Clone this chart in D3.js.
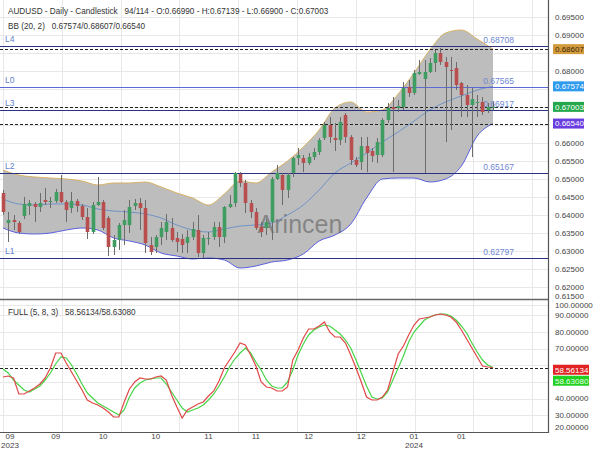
<!DOCTYPE html>
<html>
<head>
<meta charset="utf-8">
<script src="https://cdn.jsdelivr.net/npm/d3@7"></script>
<style>
  body { margin: 0; background: #fff; }
  svg { display: block; font-family: "Liberation Sans", Arial, sans-serif; }
</style>
</head>
<body>
<svg></svg>
<script>
// daily AUDUSD candles, bar index 0..93
var opens = [0.64611,0.63778,0.63861,0.63778,0.63972,0.6425,0.64306,0.64222,0.64417,0.64361,
  0.64389,0.64639,0.64361,0.64194,0.64389,0.6425,0.63944,0.63528,0.64278,0.64361,
  0.63917,0.63111,0.63306,0.63722,0.63722,0.6425,0.64333,0.64194,0.63167,0.63111,
  0.63389,0.63528,0.63639,0.63361,0.63333,0.63222,0.63389,0.63583,0.62944,0.63333,
  0.63389,0.63667,0.63389,0.64222,0.64333,0.65139,0.64889,0.64333,0.64083,0.63667,
  0.63639,0.63806,0.65,0.65111,0.64694,0.65167,0.65583,0.65583,0.65444,0.65611,
  0.6575,0.66139,0.665,0.66139,0.66083,0.66778,0.66167,0.65528,0.65472,0.65917,
  0.65778,0.65667,0.65667,0.66639,0.67,0.66972,0.67,0.67556,0.67389,0.67917,
  0.67778,0.67972,0.68222,0.685,0.6825,0.68028,0.68083,0.67667,0.67333,0.67056,
  0.67111,0.67139,0.66917,0.6699];
var highs = [0.64694,0.64083,0.64,0.63833,0.645,0.64417,0.64361,0.64611,0.6475,0.645,
  0.64722,0.65111,0.64417,0.64639,0.64444,0.64306,0.64194,0.64361,0.65056,0.64417,
  0.63972,0.63444,0.63778,0.64139,0.64417,0.64444,0.64472,0.64417,0.63389,0.63444,
  0.63806,0.64028,0.63917,0.63528,0.63472,0.63583,0.63806,0.64,0.63444,0.63528,
  0.63806,0.63806,0.6425,0.64556,0.65194,0.65194,0.64972,0.64417,0.64194,0.63806,
  0.63889,0.65056,0.65389,0.65167,0.65167,0.65611,0.65861,0.65667,0.65722,0.65861,
  0.66139,0.66583,0.66722,0.66556,0.66722,0.66833,0.66222,0.65611,0.66167,0.66167,
  0.65861,0.66139,0.66694,0.67111,0.67278,0.67194,0.67694,0.6775,0.68028,0.68306,
  0.68306,0.68361,0.68583,0.68639,0.68389,0.68389,0.6825,0.67694,0.67611,0.67528,
  0.67333,0.67278,0.67111,0.67139];
var lows = [0.64,0.6325,0.63583,0.63472,0.63889,0.64,0.63806,0.64083,0.64278,0.64194,
  0.64333,0.64333,0.63806,0.64056,0.64083,0.63861,0.63333,0.63472,0.6425,0.63583,
  0.62861,0.62889,0.63028,0.63167,0.635,0.64139,0.63583,0.62944,0.62889,0.62944,
  0.63167,0.63306,0.6325,0.62972,0.62944,0.62944,0.63306,0.62833,0.62806,0.63167,
  0.63306,0.63111,0.63222,0.64194,0.64222,0.64778,0.64056,0.63917,0.63583,0.63389,
  0.63444,0.63306,0.64972,0.64278,0.64472,0.65056,0.65389,0.65194,0.65389,0.65528,
  0.65667,0.66083,0.66,0.65778,0.65944,0.66,0.65389,0.65333,0.6525,0.65194,
  0.65472,0.65444,0.65611,0.66556,0.65194,0.66861,0.66917,0.67278,0.67333,0.67889,
  0.65167,0.67944,0.67972,0.68167,0.66028,0.66361,0.67472,0.66722,0.66722,0.65611,
  0.66722,0.66778,0.66833,0.669];
var closes = [0.64083,0.63861,0.63806,0.63528,0.64306,0.64333,0.64222,0.64333,0.64361,0.64389,
  0.64639,0.64361,0.64139,0.64389,0.6425,0.63944,0.63528,0.64278,0.64361,0.63639,
  0.63111,0.63306,0.63722,0.63861,0.64222,0.64333,0.64194,0.63222,0.62972,0.63389,
  0.63639,0.63806,0.63306,0.6325,0.63167,0.63389,0.63611,0.62944,0.63361,0.63361,
  0.63667,0.63389,0.64222,0.64306,0.65167,0.64889,0.64333,0.64083,0.63639,0.63528,
  0.63806,0.65,0.65167,0.64694,0.65111,0.65583,0.65667,0.65444,0.65611,0.6575,
  0.66083,0.665,0.66167,0.66083,0.66583,0.66167,0.65528,0.65389,0.65917,0.65722,
  0.65639,0.66028,0.66639,0.66972,0.66944,0.67028,0.67528,0.67389,0.67944,0.67972,
  0.67972,0.68222,0.685,0.6825,0.68111,0.68,0.67611,0.67333,0.67056,0.67222,
  0.67139,0.66861,0.67,0.67003];

// Bollinger band (20, 2) read every third bar
var bandIdx = [0,3,6,9,12,15,18,21,24,27,30,33,36,39,42,45,48,51,54,57,60,63,66,69,72,75,78,81,84,87,90,93];
var bbUpper = [0.6525,0.65111,0.65056,0.65028,0.65,0.64944,0.64833,0.64889,0.64889,0.64917,
  0.64778,0.64611,0.64472,0.64278,0.64583,0.64944,0.64889,0.65194,0.655,0.65889,
  0.66361,0.66972,0.67139,0.66861,0.66917,0.67361,0.67944,0.68583,0.69056,0.69139,
  0.68889,0.68607];
var bbMiddle = [0.64444,0.64306,0.64278,0.64306,0.64306,0.64278,0.64167,0.64111,0.64083,0.64028,
  0.63917,0.63722,0.63583,0.63528,0.63611,0.63694,0.63722,0.63778,0.64,0.64278,
  0.64694,0.65167,0.65444,0.65722,0.66028,0.66306,0.66611,0.66917,0.67139,0.67306,
  0.67472,0.67574];
var bbLower = [0.63639,0.635,0.63472,0.635,0.63583,0.63639,0.63583,0.63361,0.63278,0.63167,
  0.62944,0.62861,0.62778,0.62806,0.6275,0.62528,0.62583,0.62694,0.6275,0.62917,
  0.63278,0.63444,0.6375,0.64472,0.65,0.65028,0.65028,0.64917,0.65,0.65361,
  0.66194,0.6654];

// stochastic FULL (5, 8, 3)
var stochK = [53.0,53.6,52.4,42.8,42.8,44.6,46.4,48.8,52.4,58.4,
  67.4,67.4,61.4,56.0,50.6,45.2,39.2,37.4,36.2,34.4,
  32.0,29.0,29.0,38.0,45.8,50.0,52.4,51.8,51.8,53.0,
  53.6,51.2,42.2,35.0,28.4,33.2,35.0,36.8,38.0,41.6,
  44.6,50.6,58.4,63.2,68.0,73.4,72.2,66.2,59.6,50.0,
  47.0,46.4,44.6,44.6,47.0,63.2,69.2,76.4,81.8,81.8,
  83.6,86.0,80.0,77.0,77.0,73.4,66.2,58.4,50.0,41.0,
  39.2,39.2,41.0,45.2,56.0,66.8,71.6,78.2,84.2,87.8,
  88.4,89.0,90.2,90.8,90.2,89.0,86.0,81.2,75.8,70.4,
  65.0,59.6,59.0,58.56134];
var stochD = [57.8,55.4,51.2,48.2,45.2,44.0,45.8,47.6,51.2,55.4,
  60.8,65.0,64.4,60.2,54.8,48.8,43.4,40.4,37.4,35.6,
  33.8,32.0,30.2,33.2,41.0,46.4,49.4,51.2,51.8,52.4,
  52.4,48.8,44.0,39.2,34.4,32.0,33.2,34.4,36.2,39.2,
  42.8,47.6,53.0,59.0,63.8,67.4,70.4,67.4,62.0,57.2,
  51.2,47.6,46.4,46.4,50.0,57.2,66.2,72.8,78.2,81.2,
  83.0,84.2,83.6,81.2,78.8,75.2,70.4,63.2,55.4,47.6,
  41.0,39.8,40.4,44.0,51.2,58.4,65.6,74.0,80.0,83.6,
  87.2,89.0,90.2,90.8,90.8,89.6,87.2,83.6,79.4,73.4,
  68.0,63.2,60.2,58.6308];

// horizontal levels drawn by the user
var levelNames = ["L4", "L0", "L3", "L2", "L1"];
var levelValues = [0.68708, 0.67565, 0.66917, 0.65167, 0.62797];
var levelColors = ["#2b3284", "#5d69d2", "#2b3284", "#2b3284", "#2b3284"];

// x axis labels
var xTickIdx = [0, 10, 19, 29, 39, 48, 58, 68, 78, 87];
var xTickMonth = ["09", "09", "10", "10", "11", "11", "12", "12", "01", "01"];
var xTickYear = ["2023", "", "", "", "", "", "", "", "2024", ""];

var priceTicks = d3.range(0.615, 0.6951, 0.005);
var stochTicks = [20, 30, 40, 50, 60, 70, 80, 90, 100];

var width = 600, height = 450;
var plotRight = 548;
var mainTop = 0, mainBottom = 298;
var subTop = 300, subBottom = 432;

var svg = d3.select("svg").attr("width", width).attr("height", height);

var x = d3.scaleLinear().domain([0, 93]).range([3, 493]);
var y = d3.scaleLinear().domain([0.62, 0.68]).range([287, 71]);
var ys = d3.scaleLinear().domain([20, 80]).range([432, 332]);
var fmt = d3.format(".5f");

var defs = svg.append("defs");
defs.append("clipPath").attr("id", "clipMain")
  .append("rect").attr("x", 0).attr("y", mainTop).attr("width", plotRight).attr("height", mainBottom - mainTop);
defs.append("clipPath").attr("id", "clipSub")
  .append("rect").attr("x", 0).attr("y", subTop).attr("width", plotRight).attr("height", subBottom - subTop);

// grid
var gridX = d3.range(3, plotRight, 58.8);
var grid = svg.append("g").attr("stroke", "#e8e8e8").attr("stroke-width", 1);
grid.selectAll(".vgm").data(gridX).enter().append("line")
  .attr("x1", d => Math.round(d) + 0.5).attr("x2", d => Math.round(d) + 0.5)
  .attr("y1", mainTop).attr("y2", mainBottom);
grid.selectAll(".vgs").data(gridX).enter().append("line")
  .attr("x1", d => Math.round(d) + 0.5).attr("x2", d => Math.round(d) + 0.5)
  .attr("y1", subTop).attr("y2", subBottom);
grid.selectAll(".hgm").data(priceTicks).enter().append("line")
  .attr("x1", 0).attr("x2", plotRight)
  .attr("y1", d => Math.round(y(d)) + 0.5).attr("y2", d => Math.round(y(d)) + 0.5);
grid.selectAll(".hgs").data(stochTicks).enter().append("line")
  .attr("x1", 0).attr("x2", plotRight)
  .attr("y1", d => Math.round(ys(d)) + 0.5).attr("y2", d => Math.round(ys(d)) + 0.5);

var main = svg.append("g").attr("clip-path", "url(#clipMain)");

// bollinger band
var band = bandIdx.map((d, i) => ({i: d, up: bbUpper[i], mid: bbMiddle[i], lo: bbLower[i]}));
main.append("path").datum(band)
  .attr("fill", "#bdbdbd")
  .attr("d", d3.area().curve(d3.curveMonotoneX).x(d => x(d.i)).y0(d => y(d.lo)).y1(d => y(d.up)));
main.append("path").datum(band)
  .attr("fill", "none").attr("stroke", "#d9b264").attr("stroke-width", 1)
  .attr("d", d3.line().curve(d3.curveMonotoneX).x(d => x(d.i)).y(d => y(d.up)));
main.append("path").datum(band)
  .attr("fill", "none").attr("stroke", "#5b5fe0").attr("stroke-width", 1)
  .attr("d", d3.line().curve(d3.curveMonotoneX).x(d => x(d.i)).y(d => y(d.lo)));
main.append("path").datum(band)
  .attr("fill", "none").attr("stroke", "#6f94c6").attr("stroke-width", 1)
  .attr("d", d3.line().curve(d3.curveMonotoneX).x(d => x(d.i)).y(d => y(d.mid)));

// watermark
main.append("text")
  .attr("x", 300).attr("y", 233)
  .attr("text-anchor", "middle")
  .attr("font-size", 25)
  .attr("fill", "#5e5e5e")
  .attr("fill-opacity", 0.6)
  .text("Arincen");

// levels
var levels = levelValues.map((v, i) => ({name: levelNames[i], v: v, color: levelColors[i]}));
main.selectAll(".level").data(levels).enter().append("line")
  .attr("x1", 0).attr("x2", plotRight)
  .attr("y1", d => Math.round(y(d.v)) + 0.5).attr("y2", d => Math.round(y(d.v)) + 0.5)
  .attr("stroke", d => d.color).attr("stroke-width", 1.2);
main.selectAll(".levelName").data(levels).enter().append("text")
  .attr("x", 5).attr("y", d => y(d.v) - 4)
  .attr("font-size", 8.5).attr("fill", "#5f7fd0")
  .text(d => d.name);
main.selectAll(".levelVal").data(levels).enter().append("text")
  .attr("x", 514).attr("y", d => y(d.v) - 3)
  .attr("text-anchor", "end")
  .attr("font-size", 8.5).attr("fill", "#6f88d4")
  .text(d => fmt(d.v));

// dashed price lines
var lastClose = closes[closes.length - 1];
var dashVals = [bbUpper[bbUpper.length - 1], lastClose, bbLower[bbLower.length - 1]];
main.selectAll(".dash").data(dashVals).enter().append("line")
  .attr("x1", 0).attr("x2", plotRight)
  .attr("y1", d => Math.round(y(d)) + 0.5).attr("y2", d => Math.round(y(d)) + 0.5)
  .attr("stroke", "#222").attr("stroke-width", 1).attr("stroke-dasharray", "3,2");

// candles
var candles = opens.map((o, i) => ({i: i, o: o, h: highs[i], l: lows[i], c: closes[i]}));
var bw = 3.6;
var cg = main.append("g");
cg.selectAll(".wick").data(candles).enter().append("line")
  .attr("x1", d => Math.round(x(d.i)) + 0.5).attr("x2", d => Math.round(x(d.i)) + 0.5)
  .attr("y1", d => y(d.h)).attr("y2", d => y(d.l))
  .attr("stroke", "#6b6b6b").attr("stroke-width", 1);
cg.selectAll(".body").data(candles).enter().append("rect")
  .attr("x", d => Math.round(x(d.i)) + 0.5 - bw / 2)
  .attr("width", bw)
  .attr("y", d => y(Math.max(d.o, d.c)))
  .attr("height", d => Math.max(1, Math.abs(y(d.o) - y(d.c))))
  .attr("fill", d => d.c >= d.o ? "#3f9d62" : "#b94e4e");

// stochastic panel
var sub = svg.append("g").attr("clip-path", "url(#clipSub)");
sub.append("line")
  .attr("x1", 0).attr("x2", plotRight)
  .attr("y1", Math.round(ys(stochK[stochK.length - 1])) + 0.5)
  .attr("y2", Math.round(ys(stochK[stochK.length - 1])) + 0.5)
  .attr("stroke", "#222").attr("stroke-dasharray", "3,2");
sub.append("path").datum(stochD)
  .attr("fill", "none").attr("stroke", "#46d446").attr("stroke-width", 1.2)
  .attr("d", d3.line().x((d, i) => x(i)).y(d => ys(d)));
sub.append("path").datum(stochK)
  .attr("fill", "none").attr("stroke", "#e04848").attr("stroke-width", 1.2)
  .attr("d", d3.line().x((d, i) => x(i)).y(d => ys(d)));

// frame
svg.append("line").attr("x1", plotRight + 0.5).attr("x2", plotRight + 0.5)
  .attr("y1", 0).attr("y2", subBottom + 1).attr("stroke", "#555").attr("stroke-width", 1.2);
svg.append("line").attr("x1", 0).attr("x2", plotRight)
  .attr("y1", 299.5).attr("y2", 299.5).attr("stroke", "#666").attr("stroke-width", 1.5);
svg.append("line").attr("x1", 0).attr("x2", plotRight)
  .attr("y1", subBottom + 0.5).attr("y2", subBottom + 0.5).attr("stroke", "#555").attr("stroke-width", 1.2);

// right axis boxes
var boxes = [
  {v: bbUpper[bbUpper.length - 1], fill: "#d39b3c", text: "#3a2a10"},
  {v: bbMiddle[bbMiddle.length - 1], fill: "#2f9bee", text: "#fff"},
  {v: lastClose, fill: "#25a84c", text: "#fff"},
  {v: bbLower[bbLower.length - 1], fill: "#6a3de0", text: "#fff"}
];
var subBoxes = [
  {v: stochK[stochK.length - 1], fill: "#e02222", text: "#fff"},
  {v: stochD[stochD.length - 1], fill: "#22d022", text: "#e8ffe8"}
];
boxes.forEach(b => b.cy = y(b.v));
subBoxes.forEach(b => b.cy = ys(b.v) + 2);
subBoxes[1].cy = Math.max(subBoxes[1].cy, subBoxes[0].cy + 11);

// right axis tick labels, skipped where a box sits
var axisG = svg.append("g").attr("font-size", 8).attr("fill", "#444");
axisG.selectAll(".pt").data(priceTicks.filter(t => boxes.every(b => Math.abs(y(t) - b.cy) > 8))).enter()
  .append("text")
  .attr("x", 555).attr("y", d => Math.min(y(d), 296)).attr("dy", "0.35em")
  .text(d => fmt(d));
axisG.selectAll(".st").data(stochTicks.filter(t => subBoxes.every(b => Math.abs(ys(t) - b.cy) > 9))).enter()
  .append("text")
  .attr("x", 555).attr("y", d => Math.max(305, Math.min(ys(d), 427))).attr("dy", "0.35em")
  .text(d => fmt(d));

function drawBoxes(list, w) {
  var g = svg.append("g");
  g.selectAll("rect").data(list).enter().append("rect")
    .attr("x", 553).attr("y", d => d.cy - 5).attr("width", w).attr("height", 10)
    .attr("fill", d => d.fill);
  g.selectAll("text").data(list).enter().append("text")
    .attr("x", 555).attr("y", d => d.cy).attr("dy", "0.35em")
    .attr("font-size", 8).attr("fill", d => d.text)
    .text(d => fmt(d.v));
}
drawBoxes(boxes, 31);
drawBoxes(subBoxes, 36);

// x axis labels
var xg = svg.append("g").attr("font-size", 8).attr("fill", "#444").attr("text-anchor", "middle");
xg.selectAll(".m").data(xTickIdx).enter().append("text")
  .attr("x", d => Math.max(10, x(d))).attr("y", 439)
  .text((d, i) => xTickMonth[i]);
xg.selectAll(".yr").data(xTickIdx).enter().append("text")
  .attr("x", d => Math.max(10, x(d))).attr("y", 448)
  .text((d, i) => xTickYear[i]);

// headers
var head = svg.append("g").attr("font-size", 8.2).attr("fill", "#333");
head.append("text").attr("x", 8).attr("y", 14)
  .attr("xml:space", "preserve")
  .text("AUDUSD - Daily - Candlestick   94/114 - O:" + fmt(opens[93]) + " - H:" + fmt(highs[93]) +
        " - L:" + fmt(lows[93]) + " - C:" + fmt(closes[93]));
head.append("text").attr("x", 8).attr("y", 29)
  .attr("xml:space", "preserve")
  .text("BB (20, 2)   " + fmt(bbMiddle[31]) + "/" + fmt(bbUpper[31]) + "/" + fmt(bbLower[31]));
head.append("text").attr("x", 8).attr("y", 315)
  .attr("xml:space", "preserve")
  .text("FULL (5, 8, 3)   " + fmt(stochK[93]) + "/" + fmt(stochD[93]));
</script>
</body>
</html>
